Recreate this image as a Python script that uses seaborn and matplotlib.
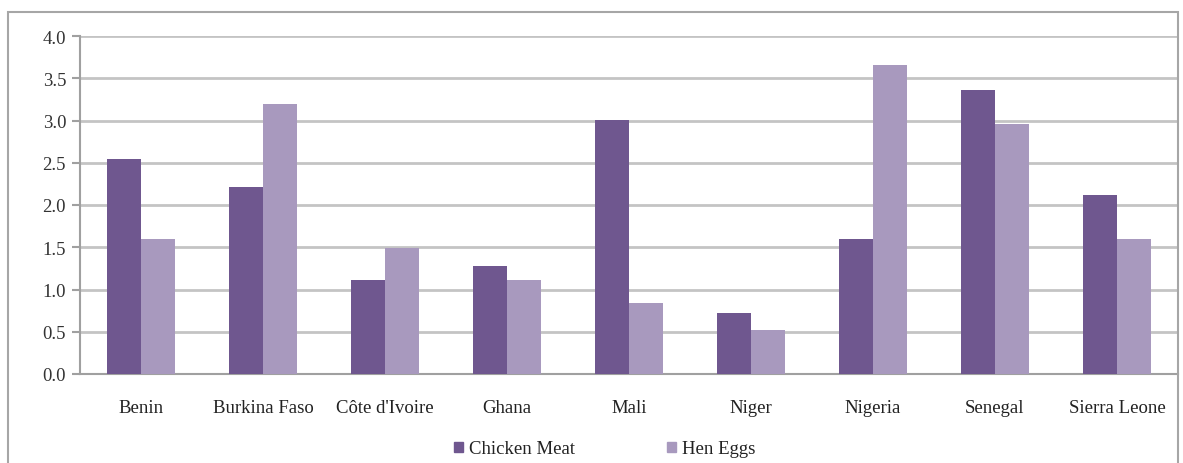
import numpy as np
import pandas as pd
import seaborn as sns
import matplotlib.pyplot as plt
from matplotlib.patches import Rectangle
from matplotlib.font_manager import FontProperties

countries = ['Benin', 'Burkina Faso', "Côte d'Ivoire", 'Ghana', 'Mali',
             'Niger', 'Nigeria', 'Senegal', 'Sierra Leone']
chicken_meat = [2.54, 2.21, 1.11, 1.28, 3.01, 0.72, 1.60, 3.36, 2.12]
hen_eggs = [1.60, 3.20, 1.49, 1.11, 0.84, 0.52, 3.66, 2.96, 1.60]
series = ['Chicken Meat', 'Hen Eggs']
colors = ['#6f578f', '#a899be']
y_ticks = [0.0, 0.5, 1.0, 1.5, 2.0, 2.5, 3.0, 3.5, 4.0]

df = pd.DataFrame({
    'Country': countries * 2,
    'Value': chicken_meat + hen_eggs,
    'Product': [series[0]] * len(countries) + [series[1]] * len(countries),
})

sns.set_style('white')
plt.rcParams['font.family'] = ['Liberation Serif', 'DejaVu Serif']

fig = plt.figure(figsize=(11.83, 4.64), dpi=100)
ax = fig.add_axes([80 / 1183, 1 - 375 / 464, 1098 / 1183, 338 / 464])

sns.barplot(data=df, x='Country', y='Value', hue='Product', palette=colors,
            width=0.565, saturation=1, ax=ax, legend=False, zorder=3,
            linewidth=0, edgecolor='none')

ax.set_xlim(-0.5, len(countries) - 0.5)
ax.set_ylim(0, 4.0)
ax.set_yticks(y_ticks)
ax.set_yticklabels([f'{v:.1f}' for v in y_ticks], fontsize=13.5, color='#333333')
ax.yaxis.grid(True, color='#c4c4c4', linewidth=2, zorder=0)
ax.set_axisbelow(True)

ax.set_xticks(range(len(countries)))
ax.set_xticklabels(countries, fontsize=13.5, color='#222222')
ax.set_xticks(np.arange(0.5, len(countries) - 1, 1.0), minor=True)
ax.tick_params(axis='x', which='major', length=0, pad=18)
ax.tick_params(axis='x', which='minor', length=6, width=1.5, color='#a0a0a0', direction='out')
ax.tick_params(axis='y', length=6, width=1.5, color='#a0a0a0', direction='out', pad=4, left=True)
ax.set_xlabel('')
ax.set_ylabel('')

for side in ['top', 'right']:
    ax.spines[side].set_visible(False)
for side in ['left', 'bottom']:
    ax.spines[side].set_visible(True)
    ax.spines[side].set_color('#a0a0a0')
    ax.spines[side].set_linewidth(1.5)

handles = [Rectangle((0, 0), 1, 1, color=c) for c in colors]
leg = fig.legend(handles, series, loc='center', bbox_to_anchor=(0.511, 1 - 450 / 464),
                 ncol=2, frameon=False,
                 prop=FontProperties(family='Liberation Serif', size=13.5),
                 handlelength=0.5, handleheight=0.5, handletextpad=0.3, columnspacing=4.9)
for t in leg.get_texts():
    t.set_color('#222222')

fig.add_artist(Rectangle((8 / 1183, -0.1), 1170 / 1183, 1 - 13 / 464 + 0.1,
                         transform=fig.transFigure, fill=False,
                         edgecolor='#a6a6a6', linewidth=1.5))

fig.savefig('out.png', dpi=100)
